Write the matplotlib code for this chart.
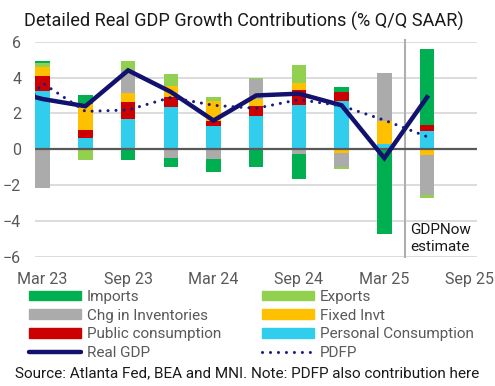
import numpy as np
import matplotlib.pyplot as plt
from matplotlib.lines import Line2D
from matplotlib.patches import Patch

plt.rcParams['font.family'] = ['Roboto', 'DejaVu Sans']

# Quarterly contributions to real GDP growth (pp, Q/Q SAAR)
quarters = ['Mar 23', 'Jun 23', 'Sep 23', 'Dec 23', 'Mar 24',
            'Jun 24', 'Sep 24', 'Dec 24', 'Mar 25', 'Jun 25']
personal = [3.26, 0.63, 1.68, 2.33, 1.31, 1.86, 2.47, 2.70, 0.30, 0.99]
public = [0.83, 0.45, 0.95, 0.61, 0.28, 0.56, 0.84, 0.52, 0.00, 0.37]
fixed = [0.51, 1.47, 0.50, 0.60, 1.12, 0.37, 0.39, -0.22, 1.30, -0.32]
inventories = [-2.14, 0.00, 1.30, -0.48, -0.54, 1.14, -0.26, -0.80, 2.64, -2.23]
exports = [0.22, -0.60, 0.50, 0.67, 0.22, 0.07, 1.00, -0.08, 0.04, -0.15]
imports = [0.11, 0.48, -0.63, -0.54, -0.76, -1.02, -1.40, 0.26, -4.76, 4.24]

# lines start one quarter earlier (Dec 22 point is cut off by the axis)
line_quarters = ['Dec 22'] + quarters
real_gdp = [3.4, 2.8, 2.4, 4.4, 3.2, 1.6, 3.0, 3.1, 2.45, -0.5, 2.9]
pdfp = [0.6, 3.68, 2.11, 2.19, 2.89, 2.45, 2.28, 2.77, 2.42, 1.62, 0.70]

tick_labels = ['Mar 23', 'Sep 23', 'Mar 24', 'Sep 24', 'Mar 25', 'Sep 25']

series = [
    ('Personal Consumption', personal, '#31CDEC'),
    ('Public consumption', public, '#CC0000'),
    ('Fixed Invt', fixed, '#FFC000'),
    ('Chg in Inventories', inventories, '#ABABAB'),
    ('Exports', exports, '#92D050'),
    ('Imports', imports, '#00B050'),
]

gdp_col = '#12126E'
grey_txt = '#595959'

fig = plt.figure(figsize=(4.95, 3.86), dpi=100)
ax = fig.add_axes([35 / 495, 1 - 256.7 / 386, 442 / 495, 215 / 386])

x = np.arange(len(quarters))
x_line = np.arange(len(line_quarters)) - 1

# stacked bars, positives and negatives stacked separately (like Excel)
pos_base = np.zeros(len(quarters))
neg_base = np.zeros(len(quarters))
for name, vals, col in series:
    v = np.array(vals)
    bottom = np.where(v >= 0, pos_base, neg_base)
    ax.bar(x, v, 0.34, bottom=bottom, color=col, zorder=2)
    pos_base += np.where(v >= 0, v, 0)
    neg_base += np.where(v < 0, v, 0)

ax.plot(x_line, real_gdp, color=gdp_col, lw=3.2, zorder=4,
        solid_joinstyle='miter')
ax.plot(x_line, pdfp, color='#1A1A85', lw=2.2, zorder=5,
        linestyle=(0, (0.01, 2.6)), dash_capstyle='round')

ax.axhline(0, color=grey_txt, lw=1.6, zorder=3)
ax.axvline(8.48, ymin=0, ymax=1.008, color='#AFAFAF', lw=1.5, zorder=1,
           clip_on=False)
ax.text(8.6, -5.85, 'GDPNow\nestimate', fontsize=11, color='#1A1A1A',
        va='bottom', ha='left', linespacing=1.25)

ax.set_xlim(-0.18, 10.17)
ax.set_ylim(-6, 6)
ax.set_yticks(np.arange(-6, 7, 2))
ax.set_xticks(np.arange(0, 11, 2))
ax.set_xticklabels(tick_labels)
ax.yaxis.grid(True, color='#D9D9D9', lw=1.3, zorder=0)
ax.set_axisbelow(True)
for s in ax.spines.values():
    s.set_visible(False)
ax.tick_params(axis='both', length=0, labelsize=11.5, colors=grey_txt)
ax.tick_params(axis='y', pad=10)
ax.tick_params(axis='x', pad=11)

fig.text(24 / 495, 1 - 21 / 386,
         'Detailed Real GDP Growth Contributions (% Q/Q SAAR)',
         fontsize=13.1, va='center', ha='left', color='#1A1A1A')

# legend in two columns, built as two legends so the columns line up
cols = {n: c for n, _, c in series}
left_items = [Patch(color=cols['Imports']), Patch(color=cols['Chg in Inventories']),
              Patch(color=cols['Public consumption']),
              Line2D([], [], color=gdp_col, lw=3.2, solid_capstyle='round')]
left_names = ['Imports', 'Chg in Inventories', 'Public consumption', 'Real GDP']
right_items = [Patch(color=cols['Exports']), Patch(color=cols['Fixed Invt']),
               Patch(color=cols['Personal Consumption']),
               Line2D([], [], color='#1A1A85', lw=2.2,
                      linestyle=(0, (0.01, 2.6)), dash_capstyle='round')]
right_names = ['Exports', 'Fixed Invt', 'Personal Consumption', 'PDFP']

leg_kw = dict(loc='upper left', frameon=False, fontsize=11, borderpad=0,
              borderaxespad=0, handlelength=3.4, handleheight=0.6,
              handletextpad=0.4, labelspacing=0.3, labelcolor=grey_txt)
fig.legend(left_items, left_names,
           bbox_to_anchor=(29 / 495, 1 - 290 / 386), **leg_kw)
fig.legend(right_items, right_names,
           bbox_to_anchor=(262 / 495, 1 - 290 / 386), **leg_kw)

fig.text(15 / 495, 1 - 373 / 386,
         'Source: Atlanta Fed, BEA and MNI. Note: PDFP also contribution here',
         fontsize=11, va='center', ha='left', color='#1A1A1A')

fig.savefig('out.png', dpi=100)
